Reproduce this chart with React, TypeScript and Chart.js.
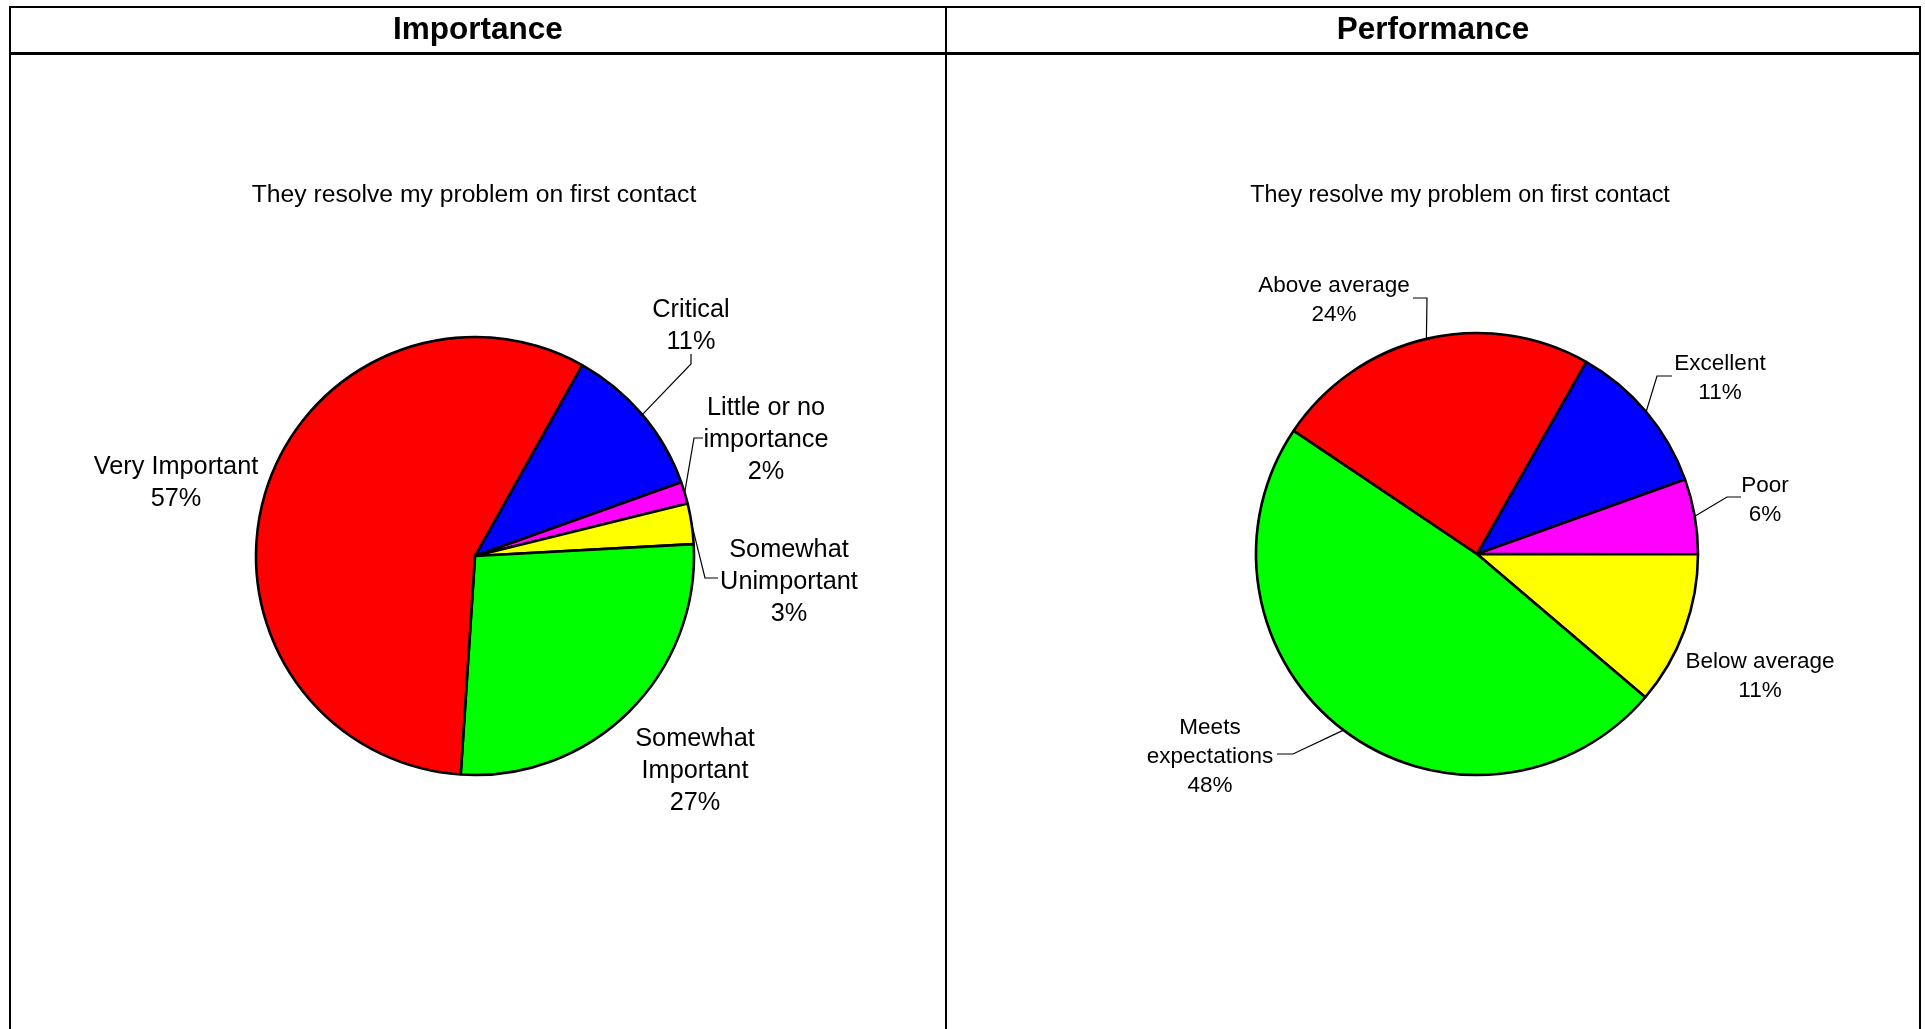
import React, { useEffect, useRef } from "react";
import { Chart, registerables } from "chart.js";

Chart.register(...registerables);

// ---------- data ----------
const importanceCategories = ["Critical", "Little or no importance", "Somewhat Unimportant", "Somewhat Important", "Very Important"];
const importanceValues = [11.4, 1.6, 3.0, 26.9, 57.1];
const importanceColors = ["#0000FF", "#FF00FF", "#FFFF00", "#00FF00", "#FF0000"];

const performanceCategories = ["Excellent", "Poor", "Below average", "Meets expectations", "Above average"];
const performanceValues = [11.3, 5.5, 11.2, 48.2, 23.8];
const performanceColors = ["#0000FF", "#FF00FF", "#FFFF00", "#00FF00", "#FF0000"];

const subtitle = "They resolve my problem on first contact";
const headers = ["Importance", "Performance"];

// ---------- layout ----------
const W = 1925;
const H = 1029;
const FONT = '"Liberation Sans", Arial, Helvetica, sans-serif';

type LabelLayout = { lines: string[]; x: number; y: number; path?: [number, number][] };
type PieLayout = {
  cx: number; cy: number; r: number; rotation: number;
  fontSize: number; lineH: number; subX: number; subY: number; subFont: number;
  labels: LabelLayout[];
};

const importanceLayout: PieLayout = {
  cx: 475, cy: 556, r: 219, rotation: 29.3,
  fontSize: 25.3, lineH: 32, subX: 474, subY: 195.5, subFont: 24.7,
  labels: [
    { lines: ["Critical"], x: 691, y: 310.5, path: [[691, 364], [691, 354]] },
    { lines: ["Little or no", "importance"], x: 766, y: 408.5, path: [[694, 438], [703, 438]] },
    { lines: ["Somewhat", "Unimportant"], x: 789, y: 550.5, path: [[705, 578], [718, 578]] },
    { lines: ["Somewhat", "Important"], x: 695, y: 739.5 },
    { lines: ["Very Important"], x: 176, y: 467.5 },
  ],
};

const performanceLayout: PieLayout = {
  cx: 1477, cy: 554, r: 221, rotation: 29.6,
  fontSize: 22.5, lineH: 29, subX: 1460, subY: 195.5, subFont: 23.3,
  labels: [
    { lines: ["Excellent"], x: 1720, y: 363.5, path: [[1657, 376], [1672, 376]] },
    { lines: ["Poor"], x: 1765, y: 485.5, path: [[1727, 497], [1741, 497]] },
    { lines: ["Below average"], x: 1760, y: 661.5 },
    { lines: ["Meets", "expectations"], x: 1210, y: 728, path: [[1293, 754], [1277, 754]] },
    { lines: ["Above average"], x: 1334, y: 286, path: [[1427, 298], [1413, 298]] },
  ],
};

function makeLabelPlugin(layout: PieLayout) {
  return {
    id: "pieLabels",
    afterDraw(chart: any) {
      const ctx = chart.ctx as CanvasRenderingContext2D;
      const meta = chart.getDatasetMeta(0);
      const data = chart.data.datasets[0].data as number[];
      const total = data.reduce((a, b) => a + b, 0);
      ctx.save();
      ctx.fillStyle = "#000";
      ctx.textAlign = "center";
      ctx.textBaseline = "middle";
      ctx.font = `${layout.subFont}px ${FONT}`;
      ctx.fillText(subtitle, layout.subX, layout.subY);
      ctx.font = `${layout.fontSize}px ${FONT}`;
      meta.data.forEach((arc: any, i: number) => {
        const p = arc.getProps(["x", "y", "startAngle", "endAngle", "outerRadius"], true);
        const mid = (p.startAngle + p.endAngle) / 2;
        const ex = p.x + Math.cos(mid) * p.outerRadius;
        const ey = p.y + Math.sin(mid) * p.outerRadius;
        const L = layout.labels[i];
        const pct = Math.round((data[i] / total) * 100) + "%";
        const lines = [...L.lines, pct];
        lines.forEach((t, k) => ctx.fillText(t, L.x, L.y + k * layout.lineH));
        if (L.path) {
          ctx.beginPath();
          ctx.strokeStyle = "#000";
          ctx.lineWidth = 1.2;
          ctx.moveTo(ex, ey);
          L.path.forEach(([x, y]) => ctx.lineTo(x, y));
          ctx.stroke();
        }
      });
      ctx.restore();
    },
  };
}

function PieCanvas({ categories, values, colors, layout }: { categories: string[]; values: number[]; colors: string[]; layout: PieLayout }) {
  const ref = useRef<HTMLCanvasElement | null>(null);
  useEffect(() => {
    if (!ref.current) return;
    const { cx, cy, r } = layout;
    const chart = new Chart(ref.current, {
      type: "pie",
      data: {
        labels: categories,
        datasets: [
          {
            data: values,
            backgroundColor: colors,
            borderColor: "#000",
            borderWidth: 2.6,
            radius: r,
          } as any,
        ],
      },
      options: {
        responsive: false,
        maintainAspectRatio: false,
        animation: false,
        devicePixelRatio: 1,
        rotation: layout.rotation,
        layout: { padding: { left: cx - r, right: W - (cx + r), top: cy - r, bottom: H - (cy + r) } },
        plugins: { legend: { display: false }, tooltip: { enabled: false }, title: { display: false } },
        events: [],
      },
      plugins: [makeLabelPlugin(layout)],
    });
    return () => chart.destroy();
  }, []);
  return <canvas ref={ref} width={W} height={H} style={{ position: "absolute", left: 0, top: 0, width: W, height: H }} />;
}

const line = (left: number, top: number, width: number, height: number) => (
  <div style={{ position: "absolute", left, top, width, height, background: "#000" }} />
);

export default function App() {
  return (
    <div style={{ position: "absolute", left: 0, top: 0, width: W, height: H, overflow: "hidden", background: "#fff" }}>
      <PieCanvas categories={importanceCategories} values={importanceValues} colors={importanceColors} layout={importanceLayout} />
      <PieCanvas categories={performanceCategories} values={performanceValues} colors={performanceColors} layout={performanceLayout} />
      {line(9, 6, 1912, 2)}
      {line(9, 52, 1912, 3)}
      {line(9, 6, 2, H)}
      {line(945, 6, 2, H)}
      {line(1919, 6, 2, H)}
      <div style={{ position: "absolute", left: 11, top: 3, width: 934, height: 50, lineHeight: "50px", textAlign: "center", fontFamily: FONT, fontWeight: "bold", fontSize: 31.5 }}>
        {headers[0]}
      </div>
      <div style={{ position: "absolute", left: 947, top: 3, width: 972, height: 50, lineHeight: "50px", textAlign: "center", fontFamily: FONT, fontWeight: "bold", fontSize: 31.5 }}>
        {headers[1]}
      </div>
    </div>
  );
}
